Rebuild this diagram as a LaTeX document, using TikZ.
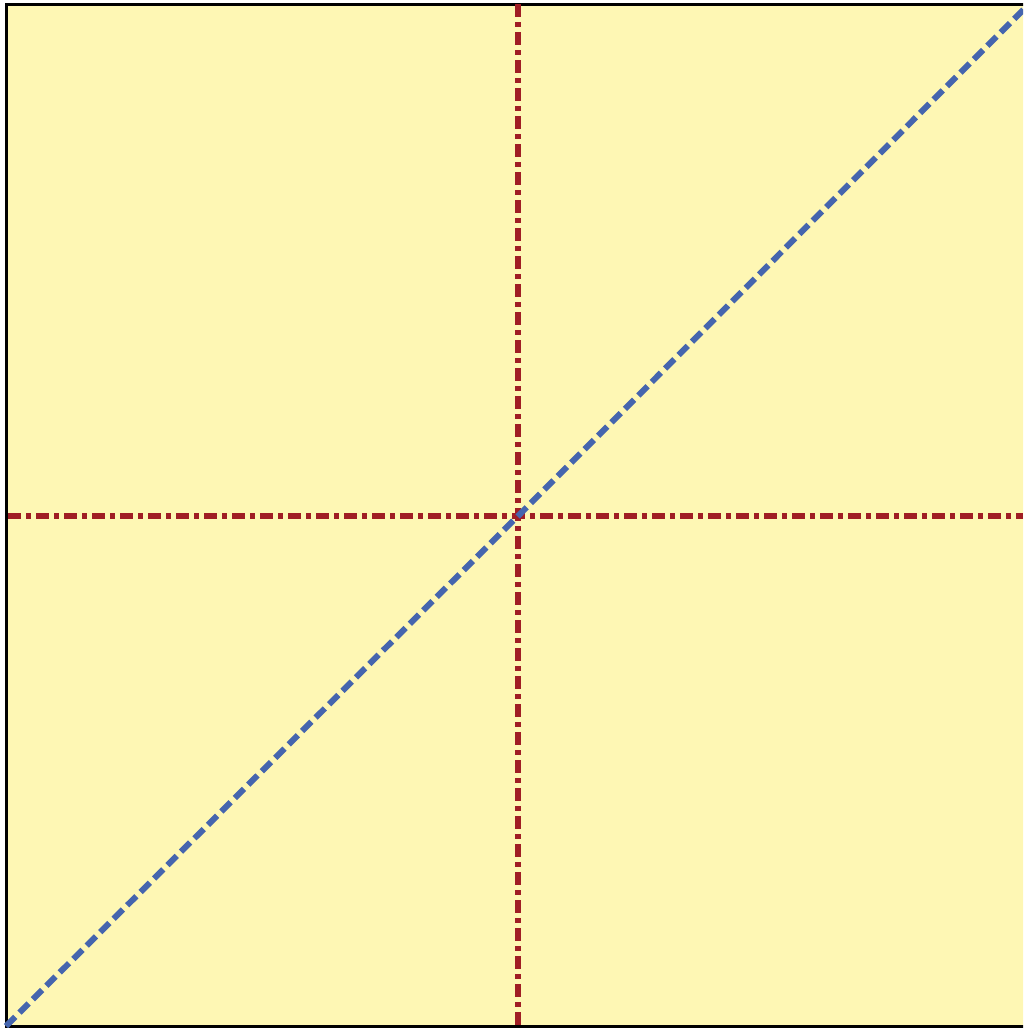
\documentclass[tikz,border=0pt]{standalone}
\definecolor{bgyellow}{RGB}{254,247,180}
\definecolor{axisred}{RGB}{160,30,36}
\definecolor{diagblue}{RGB}{69,101,174}
\tikzset{
  frame/.style={draw=black, line width=3pt, fill=bgyellow},
  axisline/.style={draw=axisred, line width=6pt, dash pattern=on 13pt off 5pt on 5pt off 5pt},
  diagline/.style={draw=diagblue, line width=6pt, dash pattern=on 13pt off 6pt}
}
\begin{document}
\begin{tikzpicture}[x=1pt,y=-1pt]
\useasboundingbox (0,0) rectangle (1023,1028);
\clip (0,0) rectangle (1023,1028);
\coordinate (bl) at (6,1026);
\coordinate (tr) at (1028,4);
\coordinate (c) at (518,516);
\path[frame] (bl) rectangle (tr);
\draw[axisline] (518,4) -- (518,1026);
\draw[axisline] (8,516) -- (1023,516);
\draw[diagline] (bl) -- (c) -- (1030,3);
\end{tikzpicture}
\end{document}
